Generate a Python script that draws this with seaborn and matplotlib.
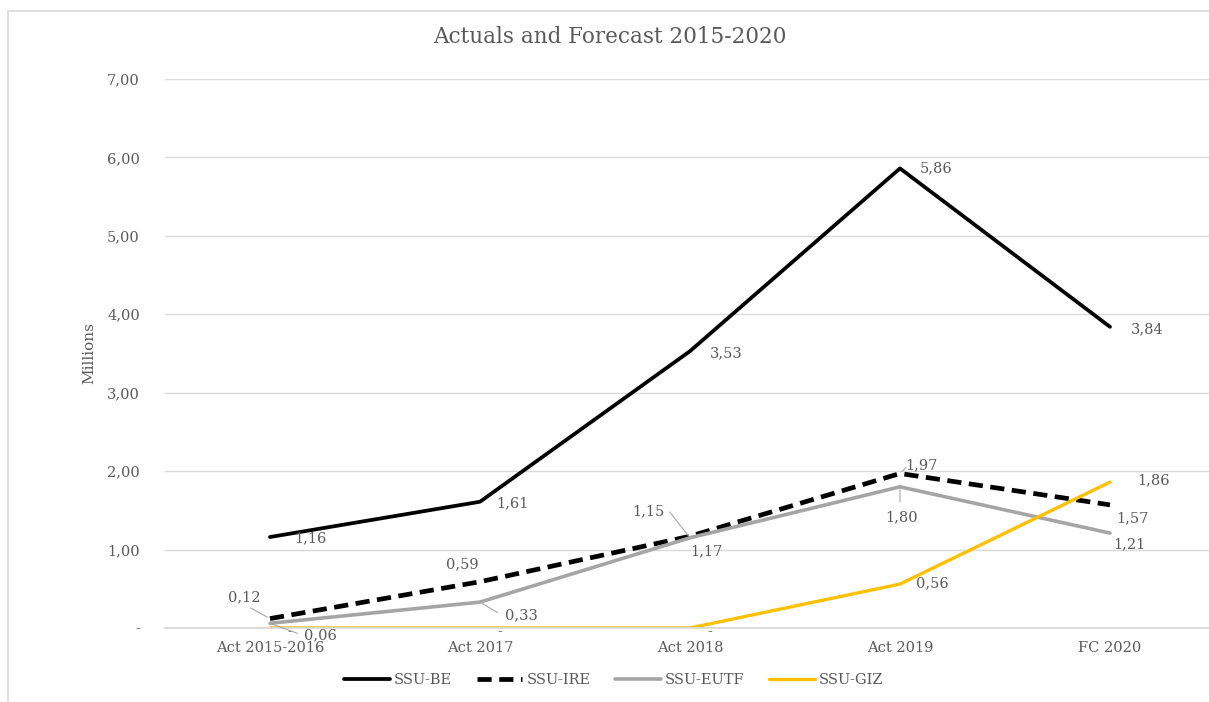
import matplotlib
matplotlib.use("Agg")
import matplotlib.pyplot as plt
import seaborn as sns
import pandas as pd
from matplotlib.patches import Rectangle
from matplotlib.ticker import FuncFormatter

categories = ["Act 2015-2016", "Act 2017", "Act 2018", "Act 2019", "FC 2020"]
ssu_be = [1.16, 1.61, 3.53, 5.86, 3.84]
ssu_ire = [0.12, 0.59, 1.17, 1.97, 1.57]
ssu_eutf = [0.06, 0.33, 1.15, 1.80, 1.21]
ssu_giz = [0.0, 0.0, 0.0, 0.56, 1.86]
series_names = ["SSU-BE", "SSU-IRE", "SSU-EUTF", "SSU-GIZ"]
y_ticks = [0, 1, 2, 3, 4, 5, 6, 7]

sns.set_theme(style="white")
plt.rcParams['font.family'] = ['DejaVu Serif']
TXT = "#595959"

fig = plt.figure(figsize=(12.09, 7.02), dpi=100)
fig.patches.append(Rectangle((8/1209, -0.1), 1.2, 1 - 11/702 + 0.1, transform=fig.transFigure,
                             fill=False, edgecolor="#d9d9d9", linewidth=1.2, clip_on=False))
ax = fig.add_axes([165/1209, 1 - 628/702, 1050/1209, (628 - 79)/702])

styles = [
    dict(color="black", linewidth=2.7, linestyle="-"),
    dict(color="black", linewidth=3.4, linestyle=(0, (3, 1.6))),
    dict(color="#a5a5a5", linewidth=2.6, linestyle="-"),
    dict(color="#ffc000", linewidth=2.4, linestyle="-"),
]
data = [ssu_be, ssu_ire, ssu_eutf, ssu_giz]
for name, vals, st in zip(series_names, data, styles):
    df = pd.DataFrame({"cat": categories, "val": vals})
    sns.lineplot(data=df, x="cat", y="val", ax=ax, label=name, sort=False, **st)

ax.set_xlim(-0.5, 4.5)
ax.set_ylim(0, 7)
ax.set_yticks(y_ticks)
ax.yaxis.set_major_formatter(FuncFormatter(lambda v, p: "-" if v == 0 else f"{v:.2f}".replace(".", ",")))
ax.grid(axis="y", color="#d9d9d9", linewidth=1)
for s in ["top", "right", "left"]:
    ax.spines[s].set_visible(False)
ax.spines["bottom"].set_color("#d9d9d9")
ax.tick_params(axis="both", length=0, labelsize=10.5, labelcolor=TXT)
ax.tick_params(axis="y", pad=18)
ax.tick_params(axis="x", pad=9)
ax.set_xlabel("")
ax.set_ylabel("Millions", fontsize=11, color=TXT, labelpad=8)
ax.set_axisbelow(True)

fig.text(610/1209, 1 - 37/702, "Actuals and Forecast 2015-2020", ha="center", va="center",
         fontsize=15.5, color=TXT)

def fmt(v):
    return "-" if v == 0 else f"{v:.2f}".replace(".", ",")

# per-series label offsets (pixels) for each category
label_specs = [
    (ssu_be, [(40, -1), (32, -2), (36, -2), (36, 0), (37, -2)]),
    (ssu_ire, [(-26, 21), (-18, 17), (16, -15), (21, 8), (22, -13)]),
    (ssu_eutf, [(50, -12), (41, -13), (-42, 27), (2, -30), (19, -11)]),
    (ssu_giz, [(20, -4), (20, -4), (20, -4), (32, 1), (44, 2)]),
]
for vals, offs in label_specs:
    for i, (v, (dx, dy)) in enumerate(zip(vals, offs)):
        ax.annotate(fmt(v), xy=(i, v), xytext=(dx, dy), textcoords="offset pixels",
                    ha="center", va="center", fontsize=10.5, color=TXT)

# leader lines
leaders = [
    (ssu_ire, 0, (-22, 12)), (ssu_eutf, 0, (30, -11)), (ssu_eutf, 1, (20, -12)),
    (ssu_eutf, 2, (-22, 28)), (ssu_ire, 3, (8, 8)), (ssu_eutf, 3, (0, -18)),
]
for vals, i, (dx, dy) in leaders:
    ax.annotate("", xy=(i, vals[i]), xytext=(dx, dy), textcoords="offset pixels",
                arrowprops=dict(arrowstyle="-", color="#a6a6a6", linewidth=0.8))

leg = ax.legend(loc="center", bbox_to_anchor=(614/1209, 1 - 680/702), bbox_transform=fig.transFigure,
                ncol=4, frameon=False, fontsize=10.5, handlelength=3.1, handletextpad=0.3,
                columnspacing=1.7)
for t in leg.get_texts():
    t.set_color(TXT)

fig.savefig("out.png", dpi=100)
